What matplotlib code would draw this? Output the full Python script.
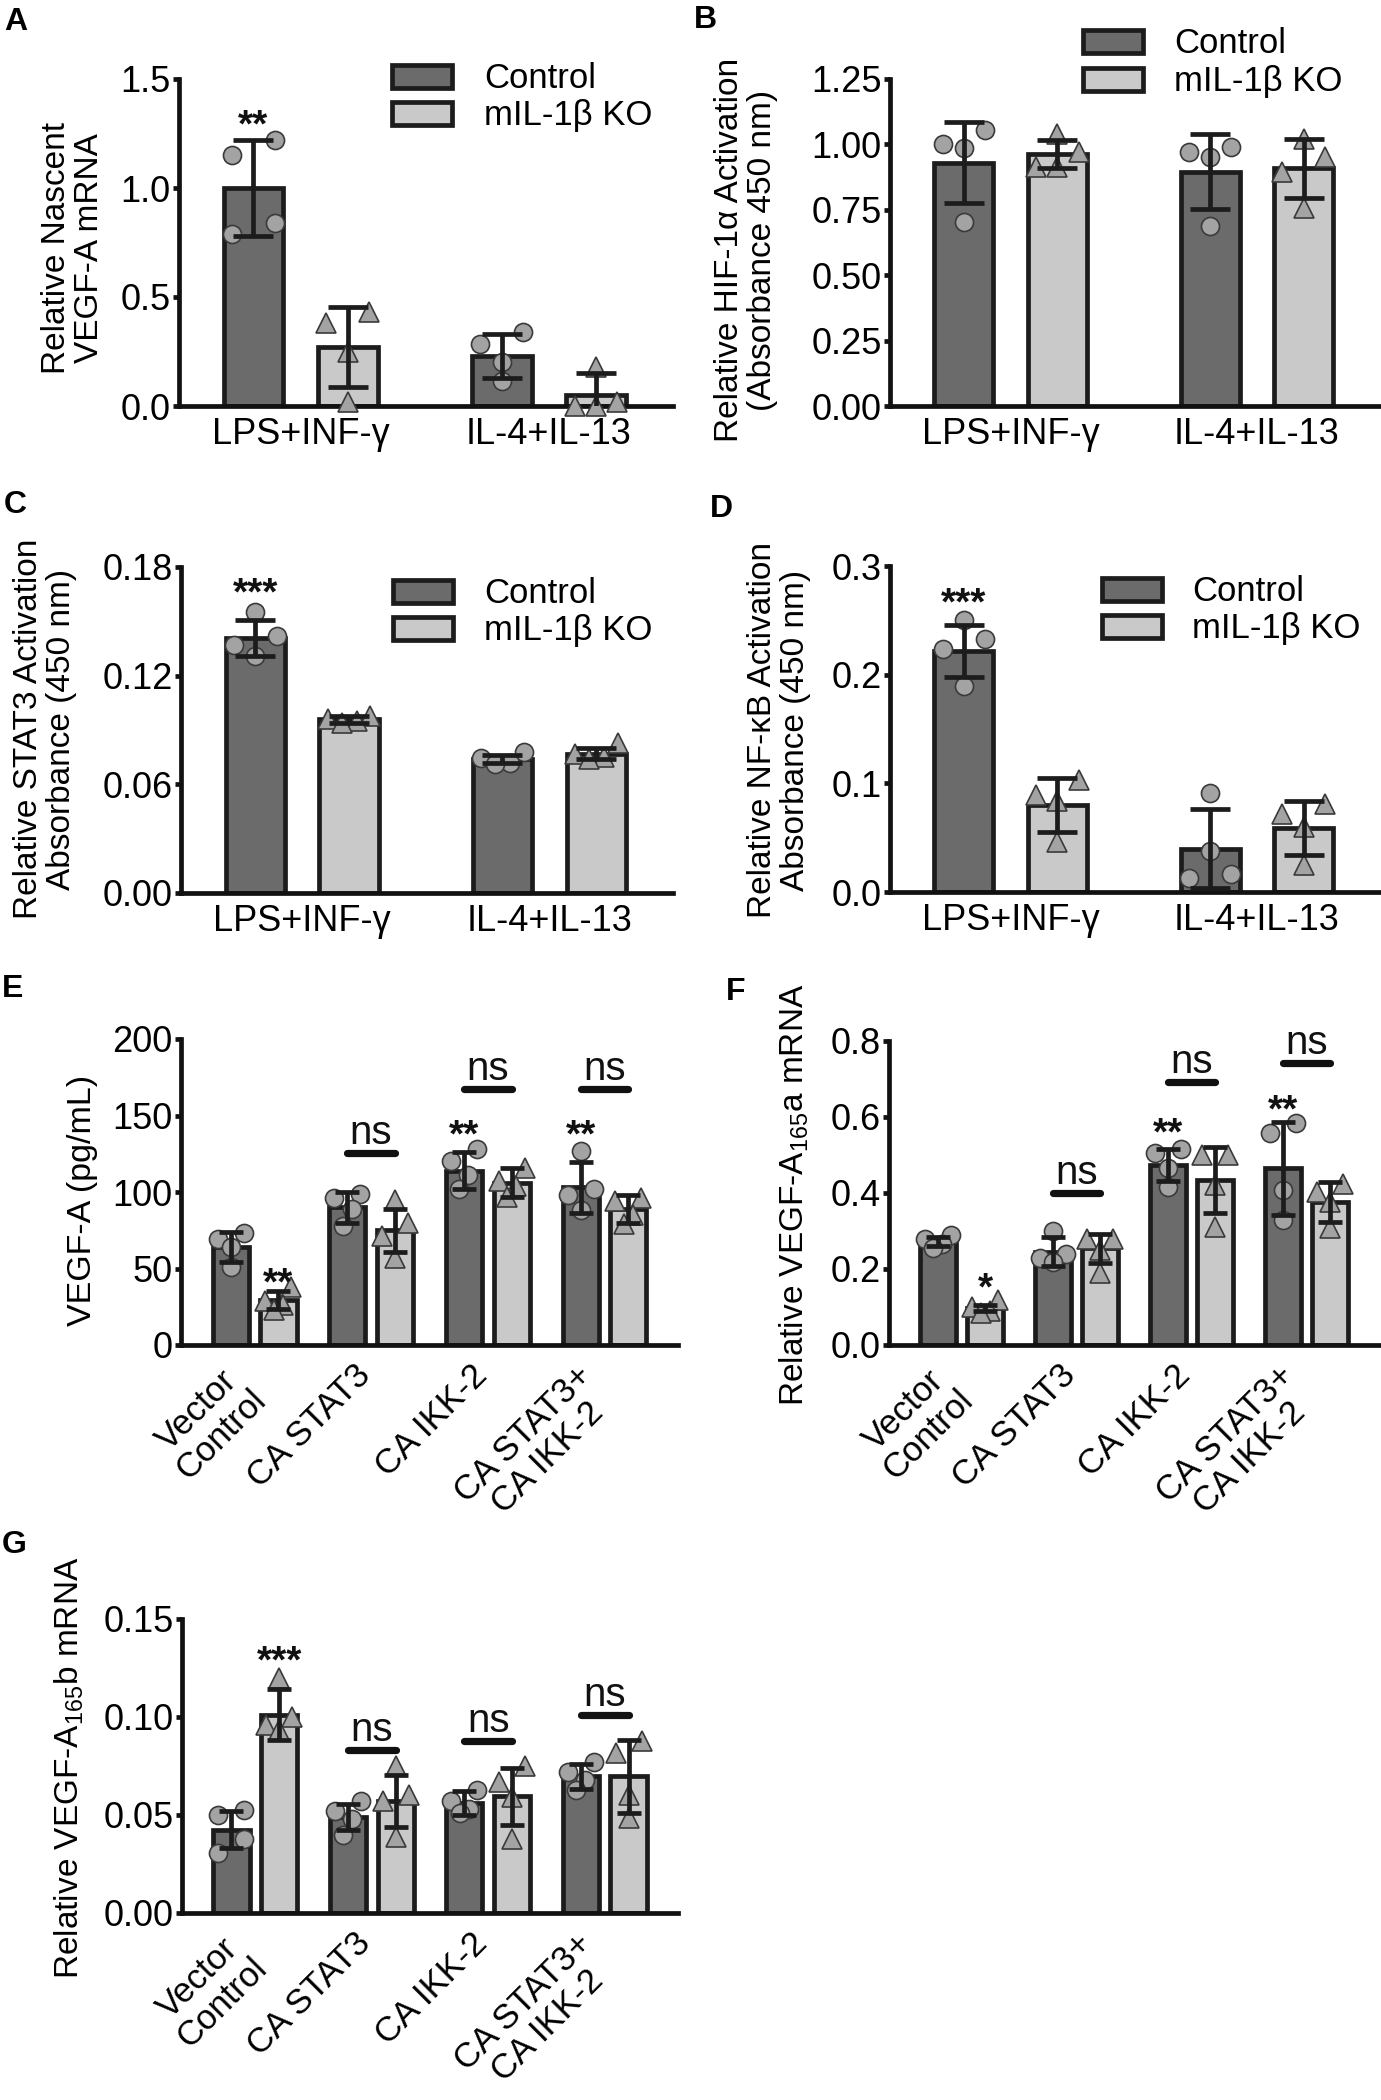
import matplotlib
matplotlib.use('Agg')
import matplotlib.pyplot as plt
import numpy as np
from matplotlib.patches import Rectangle
from matplotlib.transforms import offset_copy

plt.rcParams['font.family'] = ['Liberation Sans', 'DejaVu Sans']
plt.rcParams['mathtext.fontset'] = 'custom'
plt.rcParams['mathtext.rm'] = 'Liberation Sans'
plt.rcParams['mathtext.default'] = 'regular'

# ---------------- data ----------------
groups_2 = ["LPS+INF-γ", "IL-4+IL-13"]
groups_4 = ["Vector\nControl", "CA STAT3", "CA IKK-2", "CA STAT3+\nCA IKK-2"]
series = ["Control", "mIL-1β KO"]

# Panel A
a_ctrl_mean = [1.00, 0.23]
a_ctrl_sd = [0.22, 0.10]
a_ctrl_pts = [[1.22, 1.15, 0.84, 0.79], [0.34, 0.285, 0.20, 0.115]]
a_ko_mean = [0.27, 0.05]
a_ko_sd = [0.185, 0.10]
a_ko_pts = [[0.43, 0.38, 0.25, 0.02], [0.18, 0.02, 0.0, 0.0]]

# Panel B
b_ctrl_mean = [0.93, 0.895]
b_ctrl_sd = [0.155, 0.143]
b_ctrl_pts = [[1.055, 1.00, 0.985, 0.704], [0.99, 0.97, 0.95, 0.687]]
b_ko_mean = [0.963, 0.908]
b_ko_sd = [0.055, 0.113]
b_ko_pts = [[1.04, 0.97, 0.915, 0.915], [1.02, 0.953, 0.895, 0.755]]

# Panel C
c_ctrl_mean = [0.141, 0.074]
c_ctrl_sd = [0.010, 0.002]
c_ctrl_pts = [[0.155, 0.142, 0.137, 0.131], [0.078, 0.0745, 0.072, 0.071]]
c_ko_mean = [0.096, 0.077]
c_ko_sd = [0.002, 0.003]
c_ko_pts = [[0.098, 0.096, 0.095, 0.094], [0.083, 0.077, 0.075, 0.074]]

# Panel D
d_ctrl_mean = [0.222, 0.040]
d_ctrl_sd = [0.024, 0.036]
d_ctrl_pts = [[0.25, 0.233, 0.224, 0.19], [0.091, 0.038, 0.017, 0.013]]
d_ko_mean = [0.080, 0.059]
d_ko_sd = [0.025, 0.025]
d_ko_pts = [[0.103, 0.089, 0.084, 0.046], [0.081, 0.072, 0.060, 0.025]]

# Panel E
e_ctrl_mean = [64, 90, 114, 103]
e_ctrl_sd = [10, 10, 12, 16.5]
e_ctrl_pts = [[73, 69, 64, 51], [99, 96, 89, 78], [128, 120, 111, 102], [127, 102, 98, 88]]
e_ko_mean = [29.4, 75, 106, 89]
e_ko_sd = [6, 14, 9.5, 9]
e_ko_pts = [[38, 29, 26, 23], [95, 80, 71, 57], [116, 107, 104, 97], [96, 94, 85, 79]]

# Panel F
f_ctrl_mean = [0.272, 0.245, 0.474, 0.465]
f_ctrl_sd = [0.0125, 0.038, 0.042, 0.122]
f_ctrl_pts = [[0.29, 0.28, 0.265, 0.255], [0.30, 0.24, 0.23, 0.219],
              [0.515, 0.505, 0.465, 0.417], [0.585, 0.557, 0.408, 0.329]]
f_ko_mean = [0.098, 0.254, 0.434, 0.377]
f_ko_sd = [0.008, 0.037, 0.087, 0.052]
f_ko_pts = [[0.118, 0.10, 0.09, 0.085], [0.28, 0.28, 0.25, 0.19],
            [0.50, 0.50, 0.42, 0.31], [0.425, 0.403, 0.377, 0.307]]

# Panel G
g_ctrl_mean = [0.0425, 0.049, 0.056, 0.0697]
g_ctrl_sd = [0.0095, 0.0068, 0.006, 0.0065]
g_ctrl_pts = [[0.0527, 0.050, 0.038, 0.0306], [0.057, 0.052, 0.048, 0.040],
              [0.063, 0.057, 0.053, 0.051], [0.077, 0.072, 0.068, 0.063]]
g_ko_mean = [0.1012, 0.0573, 0.0595, 0.0697]
g_ko_sd = [0.013, 0.0133, 0.0145, 0.0185]
g_ko_pts = [[0.120, 0.100, 0.096, 0.0935], [0.0748, 0.060, 0.057, 0.039],
            [0.075, 0.067, 0.059, 0.038], [0.088, 0.0816, 0.060, 0.0485]]

# significance: (series index, group index, label, y)
a_sig = [(0, 0, "**", 1.335)]
c_sig = [(0, 0, "***", 0.171)]
d_sig = [(0, 0, "***", 0.275)]
e_sig = [(1, 0, "**", 47), (0, 2, "**", 144), (0, 3, "**", 144)]
f_sig = [(1, 0, "*", 0.175), (0, 2, "**", 0.583), (0, 3, "**", 0.645)]
g_sig = [(1, 0, "***", 0.1335)]
# ns bars: (group index, y)
e_ns = [(1, 125.4), (2, 167), (3, 167)]
f_ns = [(1, 0.401), (2, 0.693), (3, 0.743)]
g_ns = [(1, 0.0833), (2, 0.0876), (3, 0.101)]

# ---------------- style ----------------
W, H = 1381, 2100
DARK = '#6b6b6b'
LIGHT = '#c9c9c9'
PT = '#a3a3a3'
EDGE = '#1c1c1c'
FS_TICK = 26
FS_XT = 26
FS_ROT = 25
FS_LAB = 24
FS_LEG = 25
FS_STAR = 28
FS_NS = 29
FS_PANEL = 23

fig = plt.figure(figsize=(W / 100, H / 100), dpi=100)


def rect(l, r, t, b):
    return [l / W, 1 - b / H, (r - l) / W, (b - t) / H]


def swarm(vals, s_px, d_px, ypx):
    # cluster values closer than the marker size and spread each cluster sideways
    order = np.argsort(vals)[::-1]
    offs = np.zeros(len(vals))
    clusters = []
    for i in order:
        if clusters and abs(vals[clusters[-1][-1]] - vals[i]) * ypx < d_px:
            clusters[-1].append(i)
        else:
            clusters.append([i])
    for c in clusters:
        n = len(c)
        if n == 1:
            pos = [0.0]
        elif n == 2:
            pos = [1.0, -1.0]
        elif n == 3:
            pos = [1.0, -1.0, 0.0]
        else:
            pos = [1.0, -1.0, 0.35, -0.35]
        for k, i in enumerate(c):
            offs[i] = pos[k % len(pos)] * s_px
    return offs


def panel(box, groups, cm, csd, cpts, km, ksd, kpts, ylim, yticks, fmt,
          xlim, off, width, rotated, sig=(), ns=()):
    l, r, t, b = box
    ax = fig.add_axes(rect(l, r, t, b))
    x = np.arange(len(groups))
    ax.set_xlim(*xlim)
    ax.set_ylim(0, ylim)
    xpx = (r - l) / (xlim[1] - xlim[0])      # px per x unit
    ypx = (b - t) / ylim                      # px per y unit
    bw_px = width * xpx
    cap_pt = 0.33 * bw_px * 0.72
    s_px = 0.36 * bw_px
    for xs, mean, sd, pts, fc, mk, ms in [
            (x - off, cm, csd, cpts, DARK, 'o', 13),
            (x + off, km, ksd, kpts, LIGHT, '^', 14)]:
        ax.bar(xs, mean, width, color=fc, edgecolor=EDGE, linewidth=3.4, zorder=2)
        for xi, p in zip(xs, pts):
            offs = swarm(p, s_px, 17, ypx)
            ax.plot(xi + np.array(offs) / xpx, p, linestyle='none', marker=mk,
                    ms=ms, mfc=PT, mec='#3a3a3a', mew=1.2, zorder=3, clip_on=False)
        ax.errorbar(xs, mean, yerr=sd, fmt='none', ecolor=EDGE, elinewidth=3.4,
                    capsize=cap_pt, capthick=3.4, zorder=4)
    for (si, gi, lab, yv) in sig:
        xv = gi - off if si == 0 else gi + off
        tr = offset_copy(ax.transData, fig=fig, y=-0.55 * FS_STAR, units='points')
        ax.text(xv, yv, lab, transform=tr, ha='center', va='baseline',
                fontsize=FS_STAR, fontweight='bold', color='#111111', clip_on=False)
    for (gi, yv) in ns:
        ax.plot([gi - off, gi + off], [yv, yv], color='#111111', lw=5.2,
                solid_capstyle='round', clip_on=False, zorder=5)
        tr = offset_copy(ax.transData, fig=fig, y=6.5, units='points')
        ax.text(gi, yv, "ns", transform=tr, ha='center', va='baseline',
                fontsize=FS_NS, color='#111111', clip_on=False)
    for sp in ['top', 'right']:
        ax.spines[sp].set_visible(False)
    for sp in ['left', 'bottom']:
        ax.spines[sp].set_linewidth(3.4)
        ax.spines[sp].set_color('#111111')
    ax.set_yticks(yticks)
    ax.set_yticklabels([fmt.format(v) for v in yticks], fontsize=FS_TICK)
    ax.tick_params(axis='y', length=4.5, width=3.4, pad=1.5, color='#111111')
    ax.set_xticks(x)
    if rotated:
        ax.set_xticklabels([])
        ax.tick_params(axis='x', length=0)
        for xi, lab in zip(x, groups):
            nl = lab.count('\n')
            tr = offset_copy(ax.get_xaxis_transform(), fig=fig,
                             x=4 + 9 * nl, y=-10, units='points')
            ax.text(xi, 0, lab, transform=tr, rotation=45, ha='right', va='top',
                    rotation_mode='default', fontsize=FS_ROT, linespacing=1.05,
                    multialignment='center')
    else:
        ax.set_xticklabels(groups, fontsize=FS_XT)
        ax.tick_params(axis='x', length=0, pad=8)
    ax.patch.set_alpha(0)
    return ax


def legend(xbox, ytops, xtext):
    for yt, fc, lab in zip(ytops, [DARK, LIGHT], series):
        fig.add_artist(Rectangle((xbox / W, 1 - (yt + 23) / H), 60 / W, 23 / H,
                                 transform=fig.transFigure, facecolor=fc,
                                 edgecolor=EDGE, linewidth=3.4))
        fig.text(xtext / W, 1 - (yt + 23) / H, lab, fontsize=FS_LEG,
                 ha='left', va='baseline')


def ylabel(xc, yc, txt, fs=FS_LAB):
    fig.text(xc / W, 1 - yc / H, txt, rotation=90, ha='center', va='center',
             multialignment='center', fontsize=fs, linespacing=1.1)


def plabel(x, ybase, txt):
    fig.text(x / W, 1 - ybase / H, txt, fontsize=FS_PANEL, fontweight='bold',
             ha='left', va='baseline')


XL2, OFF2, WD2 = (-0.49, 1.5), 0.19, 0.24
XL4, OFF4, WD4 = (-0.63, 3.63), 0.205, 0.31

panel((179, 673, 79, 406), groups_2, a_ctrl_mean, a_ctrl_sd, a_ctrl_pts,
      a_ko_mean, a_ko_sd, a_ko_pts, 1.5, [0, 0.5, 1.0, 1.5], "{:.1f}",
      XL2, OFF2, WD2, False, a_sig)
panel((890, 1380, 79, 406), groups_2, b_ctrl_mean, b_ctrl_sd, b_ctrl_pts,
      b_ko_mean, b_ko_sd, b_ko_pts, 1.25, [0, 0.25, 0.5, 0.75, 1.0, 1.25], "{:.2f}",
      XL2, OFF2, WD2, False)
panel((181, 673, 567, 893), groups_2, c_ctrl_mean, c_ctrl_sd, c_ctrl_pts,
      c_ko_mean, c_ko_sd, c_ko_pts, 0.18, [0, 0.06, 0.12, 0.18], "{:.2f}",
      XL2, OFF2, WD2, False, c_sig)
panel((890, 1380, 566, 892), groups_2, d_ctrl_mean, d_ctrl_sd, d_ctrl_pts,
      d_ko_mean, d_ko_sd, d_ko_pts, 0.3, [0, 0.1, 0.2, 0.3], "{:.1f}",
      XL2, OFF2, WD2, False, d_sig)
panel((181, 678, 1039, 1345), groups_4, e_ctrl_mean, e_ctrl_sd, e_ctrl_pts,
      e_ko_mean, e_ko_sd, e_ko_pts, 200, [0, 50, 100, 150, 200], "{:.0f}",
      XL4, OFF4, WD4, True, e_sig, e_ns)
panel((889, 1379, 1041, 1345), groups_4, f_ctrl_mean, f_ctrl_sd, f_ctrl_pts,
      f_ko_mean, f_ko_sd, f_ko_pts, 0.8, [0, 0.2, 0.4, 0.6, 0.8], "{:.1f}",
      XL4, OFF4, WD4, True, f_sig, f_ns)
panel((182, 678, 1619, 1913), groups_4, g_ctrl_mean, g_ctrl_sd, g_ctrl_pts,
      g_ko_mean, g_ko_sd, g_ko_pts, 0.15, [0, 0.05, 0.10, 0.15], "{:.2f}",
      XL4, OFF4, WD4, True, g_sig, g_ns)

legend(392, [65, 102], 484)
legend(1083, [30, 68], 1174)
legend(393, [580, 617], 484)
legend(1102, [578, 615], 1192)

ylabel(73, 248, "Relative Nascent\nVEGF-A mRNA")
ylabel(746, 250, "Relative HIF-1α Activation\n(Absorbance 450 nm)")
ylabel(45, 729, "Relative STAT3 Activation\nAbsorbance (450 nm)")
ylabel(779, 730, "Relative NF-κB Activation\nAbsorbance (450 nm)")
ylabel(83, 1200, "VEGF-A (pg/mL)", 24.5)
ylabel(794, 1195, "Relative VEGF-A$_{165}$a mRNA")
ylabel(69, 1768, "Relative VEGF-A$_{165}$b mRNA")

plabel(4, 30, "A")
plabel(694, 28, "B")
plabel(4, 513, "C")
plabel(710, 517, "D")
plabel(2, 997, "E")
plabel(726, 1000, "F")
plabel(2, 1553, "G")

fig.savefig("out.png", dpi=100, facecolor='white')
